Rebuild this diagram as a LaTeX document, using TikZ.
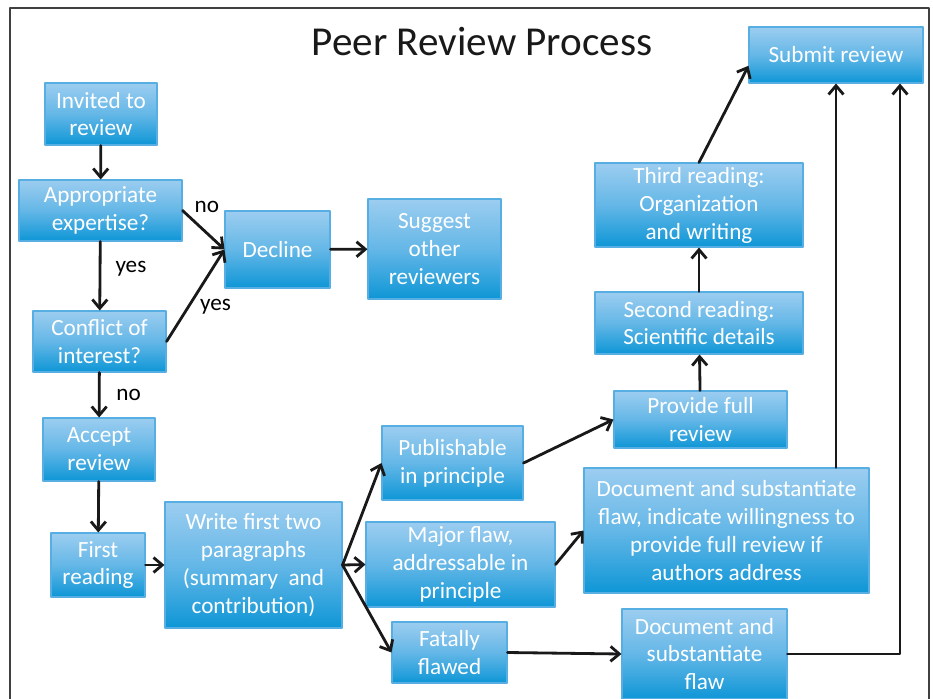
\documentclass[tikz,border=0pt]{standalone}
\usepackage{fontspec}
\setmainfont{Carlito}
\usetikzlibrary{arrows.meta, calc}
\definecolor{boxtop}{RGB}{156,205,240}
\definecolor{boxmid}{RGB}{100,183,231}
\definecolor{boxbot}{RGB}{14,150,214}
\definecolor{boxline}{RGB}{86,174,226}

\begin{document}
\begin{tikzpicture}[>={Straight Barb[length=5pt,width=8.5pt]}, line cap=round, line join=round,
	font=\fontsize{13.2}{15.9}\selectfont,
	procbox/.style 2 args={draw=boxline, line width=0.6pt, top color=boxtop, bottom color=boxbot,
		middle color=boxmid, text=white, align=center, inner sep=0pt,
		minimum width=#1cm, minimum height=#2cm},
	flow/.style={->, line width=1.6pt, black!90},
	lab/.style={text=black, inner sep=1pt}]

\useasboundingbox (0,0) rectangle (18.66,13.96);

% ==== Frame and title ====
\draw[black!75, line width=1pt] (0.20,-0.5) rectangle (18.58,13.80);
\node[font=\fontsize{23.4}{28}\selectfont, text=black!90] (title) at (9.64,13.12) {Peer Review Process};

% ==== Left column: invitation ====
\node[procbox={2.24}{1.24}] (invited) at (2.02,11.68) {Invited to\\review};
\node[procbox={3.26}{1.22}] (expert) at (2.01,9.75) {Appropriate\\expertise?};
\node[procbox={2.66}{1.22}] (conflict) at (1.99,7.13) {Conflict of\\interest?};
\node[procbox={2.24}{1.26}] (accept) at (1.98,4.97) {Accept\\review};
\node[procbox={1.88}{1.28}] (first) at (1.96,2.66) {First\\reading};

\node[procbox={2.10}{1.54}] (decline) at (5.55,8.97) {Decline};
\node[procbox={2.66}{2.00}] (suggest) at (8.69,8.98) {Suggest\\other\\reviewers};

% ==== Middle: outcomes of first reading ====
\node[procbox={3.54}{2.52}] (write) at (5.07,2.66) {Write first two\\paragraphs\\(summary~ and\\contribution)};
\node[procbox={2.82}{1.48}] (publish) at (9.05,4.70) {Publishable\\in principle};
\node[procbox={3.78}{1.70}] (major) at (9.21,2.67) {Major flaw,\\addressable in\\principle};
\node[procbox={2.30}{1.22}] (fatal) at (8.99,0.91) {Fatally\\flawed};

% ==== Right: full review and submission ====
\node[procbox={3.46}{1.14}] (provide) at (14.01,5.57) {Provide full\\review};
\node[procbox={4.16}{1.24}] (second) at (13.98,7.50) {Second reading:\\Scientific details};
\node[procbox={4.16}{1.68}] (third) at (13.98,9.86) {Third reading:\\Organization\\and writing};
\node[procbox={3.48}{1.12}] (submit) at (16.72,12.86) {Submit review};
\node[procbox={5.70}{2.50}] (docbig) at (14.53,3.35) {Document and substantiate\\flaw, indicate willingness to\\provide full review if\\authors address};
\node[procbox={3.30}{1.80}] (docsmall) at (14.09,0.88) {Document and\\substantiate\\flaw};

% ==== Connectors ====
\draw[flow] (invited) -- (expert);
\draw[flow] (expert) -- (conflict) node[lab, pos=0.4, right=7pt] {yes};
\draw[flow] (expert.east) -- (decline.west) node[lab, pos=0.58, above=10pt] {no};
\draw[flow] (conflict.east) -- (decline.west) node[lab, pos=0.375, right=5pt] {yes};
\draw[flow] (decline) -- (suggest);
\draw[flow] (conflict) -- (accept) node[lab, midway, right=8pt] {no};
\draw[flow] (accept) -- (first);
\draw[flow] (first) -- (write);

\draw[flow] (write.east) -- (publish.west);
\draw[flow] (write.east) -- (major.west);
\draw[flow] (write.east) -- (fatal.west);
\draw[flow] (publish.east) -- (provide.west);
\draw[flow] (major.east) -- (docbig.west);
\draw[flow] (fatal.east) -- (docsmall.west);

\draw[flow] (provide) -- (second);
\draw[flow] (second) -- (third);
\draw[flow] (third.north) -- (submit.187);
\draw[flow] (submit.south |- docbig.north) -- (submit.south);
\draw[flow] (docsmall.east) -| ([xshift=1.28cm]submit.south);

\end{tikzpicture}
\end{document}
